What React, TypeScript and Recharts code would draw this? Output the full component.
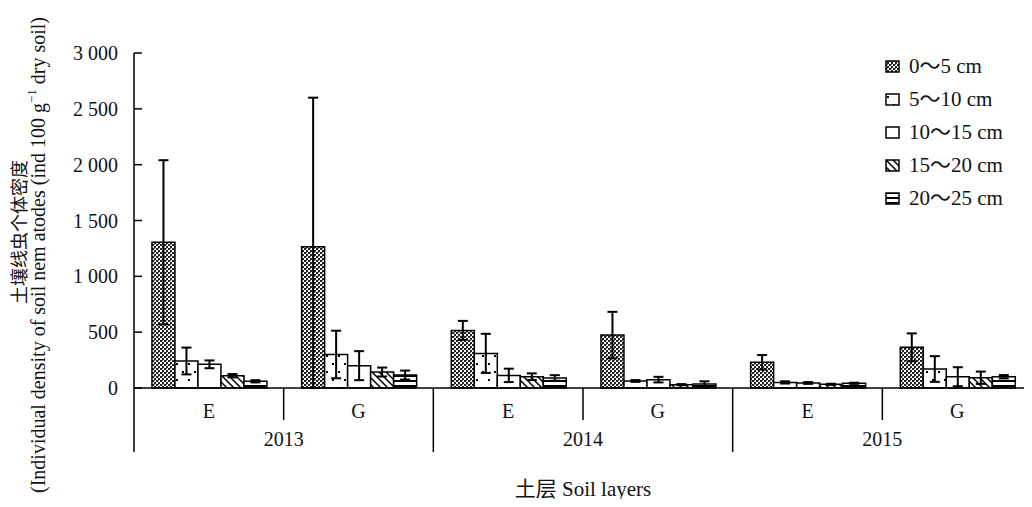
import { BarChart, Bar, XAxis, YAxis, ErrorBar } from "recharts";

// categories
const layers = ["E", "G", "E", "G", "E", "G"];
const years = ["2013", "2013", "2014", "2014", "2015", "2015"];

// series names
const depths = ["0～5 cm", "5～10 cm", "10～15 cm", "15～20 cm", "20～25 cm"];

// mean values per depth
const d0 = [1305, 1265, 516, 474, 230, 364];
const d1 = [242, 300, 310, 63, 50, 170];
const d2 = [212, 200, 113, 75, 45, 101];
const d3 = [110, 143, 101, 30, 33, 92];
const d4 = [60, 116, 90, 36, 42, 101];

// error bars [lower, upper]
const e0 = [[735, 735], [1265, 1335], [85, 85], [208, 208], [65, 65], [125, 125]];
const e1 = [[120, 120], [213, 213], [175, 175], [8, 8], [10, 10], [115, 115]];
const e2 = [[35, 35], [130, 130], [60, 60], [25, 25], [8, 8], [85, 85]];
const e3 = [[15, 15], [40, 40], [30, 30], [5, 5], [5, 5], [55, 55]];
const e4 = [[10, 10], [40, 40], [25, 25], [24, 24], [5, 5], [15, 15]];

const yTicks = [0, 500, 1000, 1500, 2000, 2500, 3000];

const values = [d0, d1, d2, d3, d4];
const errors = [e0, e1, e2, e3, e4];

const data = layers.map((layer, i) => {
  const row: any = { layer, year: years[i] };
  values.forEach((arr, k) => {
    row["v" + k] = arr[i];
    row["e" + k] = errors[k][i];
  });
  return row;
});

const W = 1032;
const H = 507;
const LEFT = 134;
const BAND = (W - LEFT) / layers.length;
const FONT = '"Liberation Serif", "Noto Sans CJK SC", serif';

const fmt = (v: number) =>
  v >= 1000 ? `${Math.floor(v / 1000)} ${String(v % 1000).padStart(3, "0")}` : String(v);

const YTick = ({ x, y, payload }: any) => (
  <g>
    <line x1={LEFT} x2={LEFT + 8} y1={y} y2={y} stroke="#000" strokeWidth={1.5} />
    <text x={x} y={y} dy={7} textAnchor="end" fontSize={20} fontFamily={FONT} fill="#111">
      {fmt(payload.value)}
    </text>
  </g>
);

const XTick = ({ x, y, payload, index }: any) => {
  const even = index % 2 === 0;
  return (
    <g>
      <text x={x} y={y + 30} textAnchor="middle" fontSize={20} fontFamily={FONT} fill="#111">
        {payload.value}
      </text>
      {even && (
        <>
          <line x1={x + BAND / 2} x2={x + BAND / 2} y1={y} y2={y + 32} stroke="#000" strokeWidth={1.5} />
          <line x1={x - BAND / 2} x2={x - BAND / 2} y1={y} y2={y + 64} stroke="#000" strokeWidth={1.5} />
          <text x={x + BAND / 2} y={y + 58} textAnchor="middle" fontSize={20} fontFamily={FONT} fill="#111">
            {years[index]}
          </text>
        </>
      )}
    </g>
  );
};

const YLabel = () => (
  <g fontFamily={FONT} fill="#111">
    <text
      x={0}
      y={0}
      transform="translate(20,232) rotate(-90)"
      textAnchor="middle"
      dominantBaseline="central"
      fontSize={18}
    >
      土壤线虫个体密度
    </text>
    <text
      x={0}
      y={0}
      transform="translate(38,255) rotate(-90)"
      textAnchor="middle"
      dominantBaseline="central"
      fontSize={20}
    >
      (Individual density of soil nem atodes (ind 100 g
      <tspan dy={-7} fontSize={13}>−1</tspan>
      <tspan dy={7}> dry soil)</tspan>
    </text>
  </g>
);

const LegendBox = () => (
  <div
    style={{
      position: "absolute",
      left: 885,
      top: 50,
      fontFamily: FONT,
      fontSize: 21,
      color: "#111",
      lineHeight: 1,
    }}
  >
    {depths.map((d, i) => (
      <div key={d} style={{ height: 33, display: "flex", alignItems: "center" }}>
        <svg width={16} height={14} style={{ marginRight: 8 }}>
          <rect x={1} y={1} width={13} height={11} fill={`url(#pat${i})`} stroke="#000" strokeWidth={1.5} />
        </svg>
        <span>{d}</span>
      </div>
    ))}
  </div>
);

export default function App() {
  return (
    <div style={{ margin: -8, width: W, height: H, position: "relative", background: "#fff", overflow: "hidden" }}>
      <BarChart
        width={W}
        height={H}
        data={data}
        margin={{ top: 53, right: 0, left: 0, bottom: 0 }}
        barCategoryGap="12%"
        barGap={0}
      >
        <defs>
          <pattern id="pat0" width={4} height={4} patternUnits="userSpaceOnUse">
            <rect width={4} height={4} fill="#fff" />
            <rect width={2} height={2} fill="#222" />
            <rect x={2} y={2} width={2} height={2} fill="#222" />
            <rect x={2} y={0} width={1} height={1} fill="#666" />
          </pattern>
          <pattern id="pat1" width={12} height={16} patternUnits="userSpaceOnUse">
            <rect width={12} height={16} fill="#fff" />
            <rect x={2} y={3} width={2} height={2} fill="#000" />
            <rect x={8} y={11} width={2} height={2} fill="#000" />
          </pattern>
          <pattern id="pat2" width={4} height={4} patternUnits="userSpaceOnUse">
            <rect width={4} height={4} fill="#fff" />
          </pattern>
          <pattern id="pat3" width={7} height={7} patternUnits="userSpaceOnUse">
            <rect width={7} height={7} fill="#fff" />
            <path d="M-1,-1 L8,8 M-1,6 L1,8 M6,-1 L8,1" stroke="#000" strokeWidth={1.5} />
          </pattern>
          <pattern id="pat4" width={5} height={5} patternUnits="userSpaceOnUse">
            <rect width={5} height={5} fill="#fff" />
            <rect y={0} width={5} height={2} fill="#000" />
          </pattern>
        </defs>
        <XAxis
          dataKey="layer"
          height={H - 388}
          tickLine={false}
          tickSize={0}
          tickMargin={0}
          interval={0}
          axisLine={{ stroke: "#000", strokeWidth: 1.5 }}
          tick={<XTick />}
          label={{
            value: "土层 Soil layers",
            position: "insideBottom",
            offset: 11,
            style: { fontFamily: FONT, fontSize: 21, fill: "#111" },
          }}
        />
        <YAxis
          width={LEFT}
          domain={[0, 3000]}
          ticks={yTicks}
          interval={0}
          tickLine={false}
          tickSize={0}
          tickMargin={16}
          axisLine={{ stroke: "#000", strokeWidth: 1.5 }}
          tick={<YTick />}
          label={{ content: () => <YLabel /> }}
        />
        {depths.map((d, i) => (
          <Bar
            key={d}
            dataKey={"v" + i}
            name={d}
            fill={`url(#pat${i})`}
            stroke="#000"
            strokeWidth={1.5}
            isAnimationActive={false}
          >
            <ErrorBar dataKey={"e" + i} direction="y" width={5} stroke="#000" strokeWidth={2} />
          </Bar>
        ))}
      </BarChart>
      <LegendBox />
    </div>
  );
}
